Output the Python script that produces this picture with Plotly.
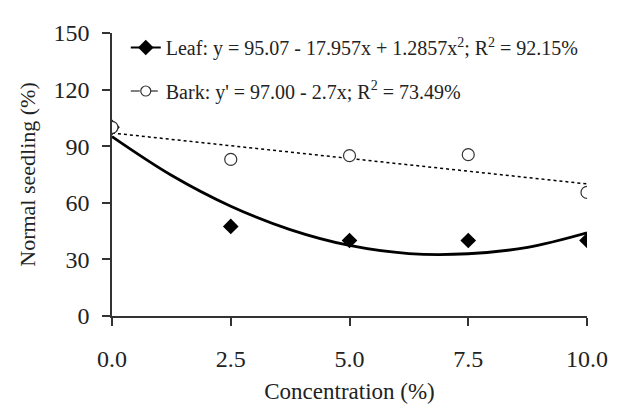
import plotly.graph_objects as go

concentration = [0.0, 2.5, 5.0, 7.5, 10.0]
leaf_values = [100, 47.5, 40, 40, 40]
bark_values = [100, 83, 85, 85.5, 65.5]

# Fitted curves
leaf_fit_x = [0.0, 1.25, 2.5, 3.75, 5.0, 6.25, 7.5, 8.75, 10.0]
leaf_fit_y = [95.1, 74.6, 58.2, 45.8, 37.4, 33.1, 33.0, 36.4, 44.1]
bark_fit_x = [0.0, 10.0]
bark_fit_y = [97.0, 70.0]

leaf_label = "Leaf: y = 95.07 - 17.957x + 1.2857x<sup>2</sup>; R<sup>2</sup> = 92.15%"
bark_label = "Bark: y' = 97.00 - 2.7x; R<sup>2</sup> = 73.49%"

x_ticks = [0, 2.5, 5, 7.5, 10]
x_tick_labels = ["0.0", "2.5", "5.0", "7.5", "10.0"]
y_ticks = [0, 30, 60, 90, 120, 150]

FONT = "Liberation Serif"
TXT = "#222"

fig = go.Figure()

fig.add_trace(go.Scatter(x=leaf_fit_x, y=leaf_fit_y, mode="lines", line=dict(color="black", width=2.8, shape="spline", smoothing=1.0),
                         showlegend=False, hoverinfo="skip"))
fig.add_trace(go.Scatter(x=bark_fit_x, y=bark_fit_y, mode="lines", line=dict(color="black", width=1.5, dash="dot"),
                         showlegend=False, hoverinfo="skip"))
fig.add_trace(go.Scatter(x=concentration, y=leaf_values, mode="markers",
                         marker=dict(symbol="diamond", size=12, color="black"), showlegend=False))
fig.add_trace(go.Scatter(x=concentration, y=bark_values, mode="markers",
                         marker=dict(symbol="circle", size=12, color="white", line=dict(color="#333", width=1.2)),
                         showlegend=False))

# Legend entries
fig.add_trace(go.Scatter(x=[None], y=[None], mode="lines+markers", name=leaf_label,
                         line=dict(color="black", width=2),
                         marker=dict(symbol="diamond", size=12, color="black"), legend="legend"))
fig.add_trace(go.Scatter(x=[None], y=[None], mode="lines+markers", name=bark_label,
                         line=dict(color="black", width=1.2, dash="dash"),
                         marker=dict(symbol="circle", size=10, color="white", line=dict(color="#333", width=1.2)),
                         legend="legend2"))

fig.update_layout(
    width=612, height=404,
    margin=dict(l=104, r=26, t=17, b=95),
    paper_bgcolor="white", plot_bgcolor="white",
    font=dict(family=FONT, size=20, color=TXT),
    legend=dict(x=0.029, y=0.949, xanchor="left", yanchor="middle", bgcolor="rgba(0,0,0,0)",
                font=dict(family=FONT, size=20, color=TXT), itemwidth=30),
    legend2=dict(x=0.029, y=0.795, xanchor="left", yanchor="middle", bgcolor="rgba(0,0,0,0)",
                 font=dict(family=FONT, size=20, color=TXT), itemwidth=30),
    xaxis=dict(range=[0, 10], tickvals=x_ticks, ticktext=x_tick_labels, showgrid=False, zeroline=False,
               showline=True, linecolor="#333", linewidth=1.5, ticks="outside", ticklen=8, tickcolor="#333",
               tickwidth=1.5, tickfont=dict(family=FONT, size=24, color=TXT), ticklabelstandoff=12,
               title=dict(text="Concentration (%)", font=dict(family=FONT, size=23, color=TXT), standoff=12)),
    yaxis=dict(range=[0, 150], tickvals=y_ticks, showgrid=False, zeroline=False,
               showline=True, linecolor="#333", linewidth=1.5, ticks="outside", ticklen=8, tickcolor="#333",
               tickwidth=1.5, tickfont=dict(family=FONT, size=24, color=TXT), ticklabelstandoff=8,
               title=dict(text="Normal seedling (%)", font=dict(family=FONT, size=22, color=TXT), standoff=12)),
)

fig.write_html("out.html")
